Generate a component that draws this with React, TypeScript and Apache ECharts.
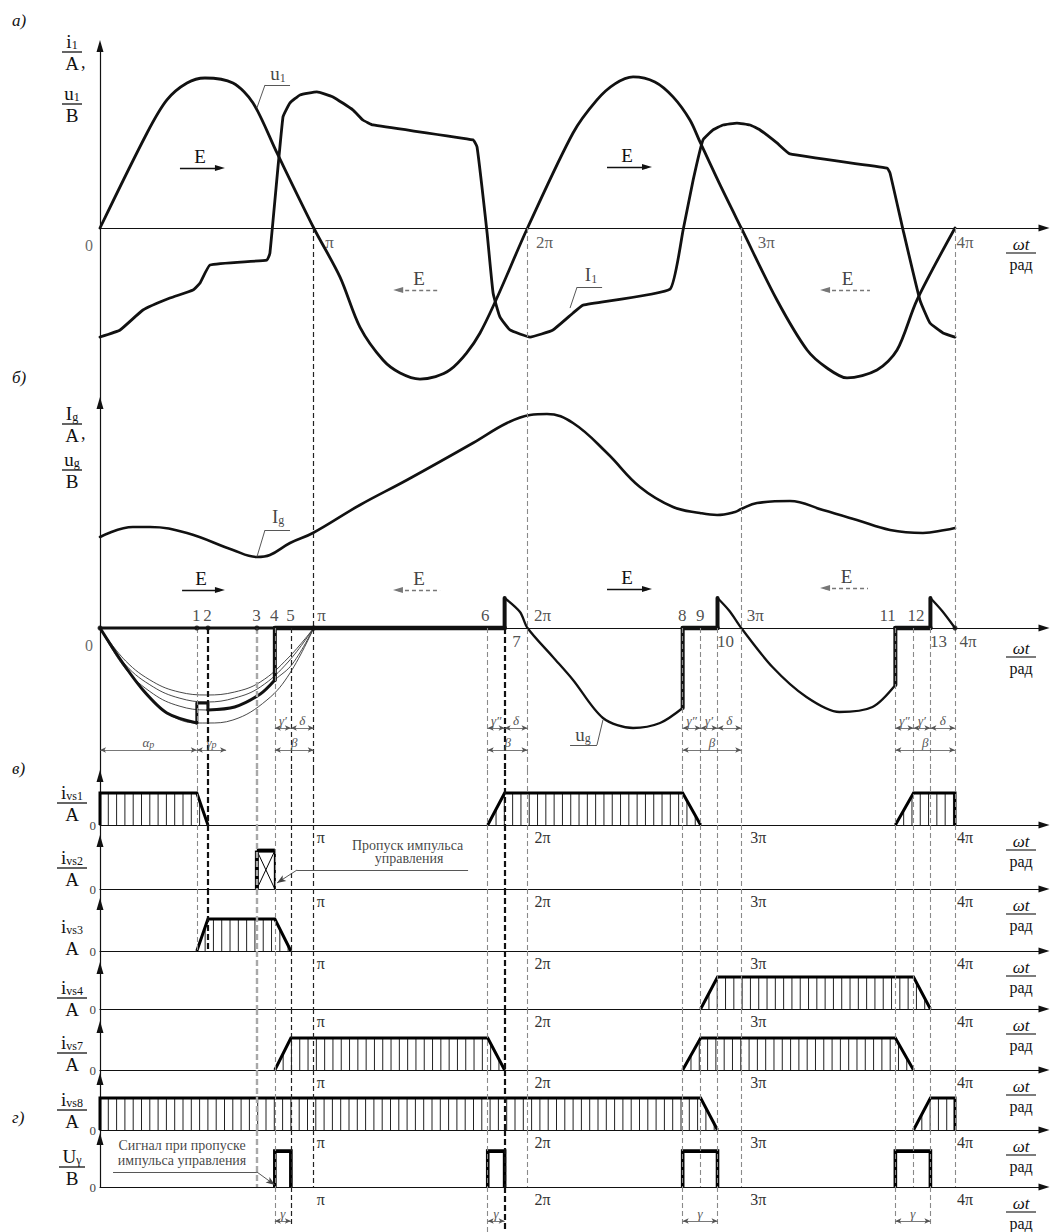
import { useEffect, useRef } from 'react';
import * as echarts from 'echarts';

type P = [number, number];

const SERIF = '"Liberation Serif", "DejaVu Serif", serif';
const INK = '#111';
const GREY = '#555';

/* ---------- ωt axis, values in units of π rad ---------- */
const xTickLabels = ['0', 'π', '2π', '3π', '4π'];
const X_MAX = 4.4164;

/* ---------- characteristic points on the u_g axis ---------- */
const pointNames = ['1', '2', '3', '4', '5', 'π', '6', '7', '2π', '8', '9', '10', '3π', '11', '12', '13', '4π'];
const pointX = [0.453, 0.505, 0.734, 0.818, 0.893, 1, 1.814, 1.893, 2, 2.726, 2.81, 2.889, 3, 3.721, 3.806, 3.885, 4];
const dotX = [0, 0.453, 0.505, 0.734, 1, 4];

/* ---------- panel а): u1 and I1 ---------- */
const u1: P[] = [
  [0, 0], [0.22, 0.629], [0.313, 0.848], [0.407, 0.96], [0.491, 0.993], [0.622, 0.96], [0.716, 0.828], [0.828, 0.497],
  [1, 0], [1.123, -0.325], [1.216, -0.656], [1.324, -0.874], [1.404, -0.96], [1.497, -1.0], [1.637, -0.94], [1.778, -0.695],
  [2, 0], [2.213, 0.629], [2.325, 0.848], [2.409, 0.954], [2.494, 1.0], [2.596, 0.967], [2.681, 0.868], [2.76, 0.715],
  [2.807, 0.57], [2.901, 0.285], [3, 0], [3.167, -0.477], [3.308, -0.808], [3.401, -0.927], [3.495, -0.993], [3.635, -0.94],
  [3.729, -0.808], [3.822, -0.477], [4, 0],
];
const i1: P[] = [
  [0, -0.722], [0.094, -0.675], [0.201, -0.543], [0.327, -0.464], [0.435, -0.411], [0.468, -0.364], [0.515, -0.245],
  [0.781, -0.212], [0.795, -0.166], [0.856, 0.735], [0.889, 0.828], [0.936, 0.881], [1.015, 0.901], [1.09, 0.868],
  [1.184, 0.781], [1.23, 0.715], [1.277, 0.682], [1.745, 0.583], [1.764, 0.536], [1.811, -0.033], [1.839, -0.43],
  [1.871, -0.589], [1.918, -0.675], [2.012, -0.722], [2.119, -0.675], [2.213, -0.563], [2.26, -0.51], [2.667, -0.404],
  [2.728, -0.013], [2.775, 0.318], [2.821, 0.583], [2.868, 0.649], [2.915, 0.682], [2.98, 0.695], [3.041, 0.682],
  [3.088, 0.649], [3.167, 0.563], [3.228, 0.49], [3.682, 0.397], [3.696, 0.364], [3.757, -0.013], [3.836, -0.477],
  [3.883, -0.629], [3.944, -0.695], [4, -0.722],
];
const eArrowsA = [
  { x1: 0.374, x2: 0.561, y: 0.397, dir: 1 },
  { x1: 1.395, x2: 1.591, y: -0.411, dir: -1 },
  { x1: 2.372, x2: 2.559, y: 0.404, dir: 1 },
  { x1: 3.392, x2: 3.602, y: -0.411, dir: -1 },
];
const leadersA: P[][] = [
  [[0.734, 0.795], [0.772, 0.947], [0.889, 0.947]],
  [[2.199, -0.53], [2.232, -0.391], [2.349, -0.391]],
];
const textsA = [
  { t: '0', x: -0.0515, y: -0.113 },
  { t: 'u{s|1}', x: 0.833, y: 1.02 },
  { t: 'I{s|1}', x: 2.297, y: -0.311 },
];
// horizontal offset of the а) tick labels (style only)
const tickDxA = [12, 9, 17, 2];

/* ---------- panel б): Ig and u_g ---------- */
const ig: P[] = [
  [0, 0.91], [0.154, 1.01], [0.234, 1.01], [0.407, 0.95], [0.622, 0.78], [0.734, 0.71], [0.795, 0.73], [0.889, 0.85],
  [0.996, 0.95], [1.216, 1.23], [1.436, 1.48], [1.745, 1.85], [1.904, 2.05], [2.012, 2.13], [2.091, 2.14], [2.213, 2.05],
  [2.372, 1.75], [2.526, 1.41], [2.681, 1.21], [2.807, 1.15], [2.887, 1.13], [2.971, 1.16], [3, 1.19], [3.074, 1.25],
  [3.228, 1.27], [3.382, 1.18], [3.541, 1.08], [3.696, 0.98], [3.85, 0.95], [3.953, 0.98], [4, 1.0],
];
const ugArc1: P[] = [[0, 0], [0.12, -0.33], [0.25, -0.54], [0.37, -0.64], [0.5, -0.67], [0.63, -0.64], [0.75, -0.54], [0.88, -0.3], [1, 0]];
const ugArc2: P[] = [[0, 0], [0.12, -0.37], [0.25, -0.59], [0.37, -0.7], [0.5, -0.74], [0.63, -0.7], [0.75, -0.59], [0.88, -0.34], [1, 0]];
const ugArc3: P[] = [[0, 0], [0.12, -0.41], [0.25, -0.66], [0.37, -0.78], [0.5, -0.82], [0.63, -0.79], [0.75, -0.66], [0.818, -0.52], [0.9, -0.36], [1, 0]];
const ugArc4: P[] = [[0, 0], [0.1, -0.33], [0.201, -0.62], [0.313, -0.85], [0.453, -0.95], [0.505, -0.95], [0.622, -0.92], [0.781, -0.72], [0.889, -0.45], [1, 0]];
const ugLegA: P[] = [[0, 0], [0.1, -0.33], [0.201, -0.62], [0.313, -0.85], [0.453, -0.95]];
const ugStep: P[] = [[0.453, -0.95], [0.453, -0.75], [0.505, -0.75], [0.505, -0.82]];
const ugLegB: P[] = [[0.505, -0.82], [0.63, -0.79], [0.75, -0.66], [0.818, -0.52]];
const ugLegC: P[] = [[1.893, 0.3], [1.965, 0.16], [2, 0], [2.119, -0.29], [2.213, -0.52], [2.353, -0.9], [2.494, -1.0], [2.62, -0.95], [2.726, -0.8]];
const ugLegD: P[] = [[2.889, 0.3], [2.945, 0.17], [3, 0], [3.146, -0.39], [3.305, -0.69], [3.459, -0.84], [3.614, -0.79], [3.721, -0.57]];
const ugLegE: P[] = [[3.885, 0.3], [3.94, 0.17], [4, 0]];
const ugJumps: P[][] = [
  [[0.818, -0.52], [0.818, 0]], [[1.893, 0], [1.893, 0.3]], [[2.726, -0.8], [2.726, 0]],
  [[2.889, 0], [2.889, 0.3]], [[3.721, -0.57], [3.721, 0]], [[3.885, 0], [3.885, 0.3]],
];
const ugConduction: P[][] = [
  [[0, 0], [0.818, 0]], [[0.818, 0], [1.893, 0]], [[2.726, 0], [2.889, 0]], [[3.721, 0], [3.885, 0]],
];
const ugConductionWidth = [3, 4.5, 4.5, 4.5];
const eArrowsB = [
  { x1: 0.384, x2: 0.561, y: 0.38, dir: 1 },
  { x1: 1.394, x2: 1.591, y: 0.38, dir: -1 },
  { x1: 2.372, x2: 2.559, y: 0.39, dir: 1 },
  { x1: 3.392, x2: 3.593, y: 0.4, dir: -1 },
];
const dimsB = [
  { x1: 0.818, x2: 0.893, y: -1.0, t: 'γ′' }, { x1: 0.893, x2: 1, y: -1.0, t: 'δ' },
  { x1: 1.814, x2: 1.893, y: -1.0, t: 'γ″' }, { x1: 1.893, x2: 2, y: -1.0, t: 'δ' },
  { x1: 2.726, x2: 2.81, y: -1.0, t: 'γ″' }, { x1: 2.81, x2: 2.889, y: -1.0, t: 'γ′' }, { x1: 2.889, x2: 3, y: -1.0, t: 'δ' },
  { x1: 3.721, x2: 3.806, y: -1.0, t: 'γ″' }, { x1: 3.806, x2: 3.885, y: -1.0, t: 'γ′' }, { x1: 3.885, x2: 4, y: -1.0, t: 'δ' },
  { x1: 0, x2: 0.453, y: -1.22, t: 'α{s|p}' }, { x1: 0.453, x2: 0.59, y: -1.22, t: 'γ{s|p}' },
  { x1: 0.818, x2: 1, y: -1.22, t: 'β' }, { x1: 1.814, x2: 2, y: -1.22, t: 'β' },
  { x1: 2.726, x2: 3, y: -1.22, t: 'β' }, { x1: 3.721, x2: 4, y: -1.22, t: 'β' },
];
const leadersB: P[][] = [
  [[0.734, 0.71], [0.772, 0.98], [0.889, 0.98]],
  [[2.353, -0.92], [2.325, -1.17], [2.199, -1.17]],
];
const textsB = [
  { t: '0', x: -0.0515, y: -0.17 },
  { t: 'I{s|g}', x: 0.833, y: 1.12 },
  { t: 'u{s|g}', x: 2.26, y: -1.06 },
];
// label placement of the point names (style only)
const pointLabelMode = ['t', 't', 't', 't', 't', 'tl', 't', 'bl', 'tl', 't', 't', 'bl', 'tl', 'tr', 't', 'bl', 'bl'];
const pointLabelDx = [0, 0, 0, 0, 0, 4, -2, 8, 7, 0, 0, 0, 6, 1, 3, 0, 5];

/* ---------- panel в): thyristor currents [rampStart, topStart, topEnd, rampEnd, level] ---------- */
const stripTitles = ['i{s|vs1}', 'i{s|vs2}', 'i{s|vs3}', 'i{s|vs4}', 'i{s|vs7}', 'i{s|vs8}', 'U{s|γ}'];
const stripUnits = ['A', 'A', 'A', 'A', 'A', 'A', 'B'];
const vs1 = [[0, 0, 0.453, 0.505, 1], [1.814, 1.893, 2.726, 2.81, 1], [3.721, 3.806, 4, 4, 1]];
const vs2Skip = [[0.734, 0.818, 1.2]];
const vs3 = [[0.453, 0.505, 0.818, 0.893, 1]];
const vs4 = [[2.81, 2.889, 3.806, 3.885, 1]];
const vs7 = [[0.818, 0.893, 1.814, 1.893, 1], [2.726, 2.81, 3.721, 3.806, 1]];
const vs8 = [[0, 0, 2.81, 2.889, 1], [3.806, 3.885, 4, 4, 1]];
/* ---------- panel г): control signal [start, end, level] ---------- */
const uGamma = [[0.818, 0.893, 1.12], [1.814, 1.893, 1.12], [2.726, 2.889, 1.12], [3.721, 3.885, 1.12]];
const dimsGamma = [
  { x1: 0.818, x2: 0.893, y: 0.244, t: 'γ' }, { x1: 1.814, x2: 1.893, y: 0.244, t: 'γ' },
  { x1: 2.726, x2: 2.889, y: 0.244, t: 'γ' }, { x1: 3.721, x2: 3.885, y: 0.244, t: 'γ' },
];
const leaderVs2: P[] = [[1.722, 0.594], [0.922, 0.594], [0.828, 0.188]];
const leaderU: P[] = [[0.061, 0.469], [0.734, 0.469], [0.818, 0.0625]];
const textsVs2 = [{ t: 'Пропуск импульса', x: 1.439, y: 1.375 }, { t: 'управления', x: 1.446, y: 0.94 }];
const textsU = [{ t: 'Сигнал при пропуске', x: 0.384, y: 1.31 }, { t: 'импульса управления', x: 0.384, y: 0.84 }];

/* dashed guide lines: [point name, last panel reached, tone] */
const periodGuides = [['π', 'u', 'dark'], ['2π', 'u', 'gray'], ['3π', 'u', 'gray'], ['4π', 'u', 'gray']];
const pointGuides = [
  ['1', 'vs3', 'gray'], ['2', 'vs3', 'heavy'], ['3', 'u', 'light'], ['4', 'ext', 'gray'], ['5', 'ext', 'dark'],
  ['6', 'ext0', 'gray'], ['7', 'ext0', 'heavy'], ['8', 'ext', 'gray'], ['9', 'u', 'gray'], ['10', 'ext', 'gray'],
  ['11', 'ext', 'gray'], ['12', 'u', 'gray'], ['13', 'ext', 'gray'],
];

/* ---------- layout (pixels) ---------- */
const LEFT = 100;
const RIGHT = 10;
const STRIPS = [
  { top: 770, axis: 825, tip: 770, bar: 803 },
  { top: 825, axis: 889, tip: 835, bar: 868 },
  { top: 889, axis: 951, tip: 898, bar: 0 },
  { top: 951, axis: 1009, tip: 962, bar: 998 },
  { top: 1009, axis: 1070, tip: 1021, bar: 1053 },
  { top: 1070, axis: 1130, tip: 1073, bar: 1110 },
  { top: 1130, axis: 1187, tip: 1133, bar: 1167 },
];
const STRIP_PX = 32;

const GUIDE: Record<string, any> = {
  dark: { type: [5, 3], color: '#222', width: 1.2 },
  gray: { type: [5, 3], color: '#8a8a8a', width: 1.1 },
  light: { type: [6, 3], color: '#a8a8a8', width: 2.4 },
  heavy: { type: [6, 3], color: '#111', width: 2.2 },
};

const subRichLabel = {
  s: { fontSize: 12, fontFamily: SERIF, color: INK, verticalAlign: 'bottom', lineHeight: 12 },
};
const dimRich = {
  s: { fontSize: 10, fontFamily: SERIF, fontStyle: 'italic', color: GREY, verticalAlign: 'bottom', lineHeight: 10 },
};

function T(x: number, y: number, text: string, o: any = {}) {
  const align = o.align ?? 'center';
  const va = o.va ?? 'middle';
  return {
    type: 'text', x, y, silent: true,
    style: {
      text, fill: o.color ?? INK, fontFamily: SERIF, fontSize: o.size ?? 19,
      fontStyle: o.italic ? 'italic' : 'normal',
      align, textAlign: align, verticalAlign: va, textVerticalAlign: va,
      lineHeight: o.lh,
      rich: o.rich,
    },
  };
}

const subRichG = {
  s: { fontSize: 12, fontFamily: SERIF, fill: INK, verticalAlign: 'bottom', lineHeight: 12 },
};

function fracG(cx: number, bar: number, top: string, bottom: string, w: number, drawBar = true) {
  const els: any[] = [T(cx, bar - 1, top, { va: 'bottom', rich: subRichG, lh: 20 })];
  if (drawBar) {
    els.push({ type: 'line', silent: true, shape: { x1: cx - w / 2, y1: bar, x2: cx + w / 2, y2: bar }, style: { stroke: INK, lineWidth: 1.3 } });
  }
  els.push(T(cx, bar + 2, bottom, { va: 'top', lh: 18 }));
  return els;
}

function omegaG(axisY: number) {
  return [
    T(1021, axisY + 16, 'ωt', { size: 17, italic: true }),
    { type: 'line', silent: true, shape: { x1: 1006, y1: axisY + 25, x2: 1036, y2: axisY + 25 }, style: { stroke: INK, lineWidth: 1.1 } },
    T(1021, axisY + 36, 'рад', { size: 16 }),
  ];
}

function buildOption() {
  const P: Record<string, number> = {};
  pointNames.forEach((n, i) => { P[n] = pointX[i]; });

  const gridBoxes = [
    { top: 46, height: 351 },
    { top: 397, height: 373 },
    ...STRIPS.map((s) => ({ top: s.top, height: s.axis - s.top })),
    { top: 1187, height: 45 },
  ];
  const yRanges: [number, number][] = [
    [-1.119, 1.205],
    [-1.42, 2.31],
    ...STRIPS.map((s) => [0, (s.axis - s.top) / STRIP_PX] as [number, number]),
    [0, 1],
  ];
  const arrowOffsets = [0, -6, ...STRIPS.map((s) => -(s.tip + 6 - s.top)), 0];
  const nG = gridBoxes.length;
  const EXT = nG - 1;

  const grid = gridBoxes.map((b) => ({ left: LEFT, right: RIGHT, top: b.top, height: b.height, containLabel: false }));

  const tickFmt = (v: number) => {
    const i = Math.round(v);
    if (Math.abs(v - i) > 1e-6 || i < 1 || i > 4) return '';
    return `{p${i}|${xTickLabels[i]}}`;
  };
  const tickRich = (offs: number[], size: number) => {
    const r: any = {};
    offs.forEach((o, k) => {
      r['p' + (k + 1)] = { padding: [0, 0, 0, o], fontFamily: SERIF, fontSize: size, color: '#333' };
    });
    return r;
  };

  const xAxis = gridBoxes.map((_, g) => {
    const base: any = {
      gridIndex: g, type: 'value', min: 0, max: X_MAX, interval: 1,
      show: g !== EXT,
      axisLine: { show: true, onZero: true, symbol: ['none', 'triangle'], symbolSize: [7, 11], lineStyle: { color: INK, width: 1.2 } },
      axisTick: { show: false }, splitLine: { show: false },
      axisLabel: { show: false },
    };
    if (g >= 2 && g < EXT) {
      base.axisLabel = { show: true, margin: 4, align: 'left', formatter: tickFmt, rich: tickRich([3, 7, 9, 2], 16), fontFamily: SERIF, fontSize: 16, color: '#333' };
    }
    return base;
  });

  const yAxis = gridBoxes.map((_, g) => {
    const isStrip = g >= 2 && g < EXT;
    return {
      gridIndex: g, type: 'value', min: yRanges[g][0], max: yRanges[g][1],
      show: g !== EXT,
      axisLine: {
        show: true, onZero: true, symbol: ['none', 'triangle'], symbolSize: [7, 12],
        symbolOffset: [0, arrowOffsets[g]], lineStyle: { color: INK, width: 1.2 },
      },
      axisTick: { show: false }, splitLine: { show: false },
      axisLabel: isStrip
        ? { show: true, margin: 4, formatter: (v: number) => (v === 0 ? '0' : ''), fontFamily: SERIF, fontSize: 13, color: '#444' }
        : { show: false },
    };
  });

  const series: any[] = [];
  const lineS = (g: number, data: P[], width: number, o: any = {}) => ({
    type: 'line', xAxisIndex: g, yAxisIndex: g, data, symbol: 'none', showSymbol: false, silent: true,
    animation: false, clip: false, smooth: o.smooth ?? false, z: o.z ?? 3,
    lineStyle: { color: o.color ?? INK, width, cap: 'round', join: 'round' },
    emphasis: { disabled: true },
  });

  /* markLine containers per grid */
  const marks: any[][] = gridBoxes.map(() => []);

  const addGuide = (x: number, start: string, end: string, tone: string) => {
    const endGrid = end === 'vs3' ? 4 : end === 'u' ? 8 : EXT;
    for (let g = start === 'a' ? 0 : 1; g <= endGrid; g++) {
      const [mn, mx] = yRanges[g];
      let y1: number; let y2: number;
      if (g === 0) { y1 = 0; y2 = mn; }
      else if (g === 1) { y1 = start === 'a' ? mx : 0; y2 = mn; }
      else if (g === EXT) { y1 = 1; y2 = end === 'ext0' ? 0 : 0.12; }
      else { y1 = mx; y2 = 0; }
      marks[g].push([{ coord: [x, y1], lineStyle: GUIDE[tone] }, { coord: [x, y2] }]);
    }
  };
  periodGuides.forEach(([n, e, t]) => addGuide(P[n], 'a', e, t));
  pointGuides.forEach(([n, e, t]) => addGuide(P[n], 'b', e, t));

  const eItem = (e: any) => {
    const dashed = e.dir < 0;
    const ls = dashed ? { type: [4, 3], color: '#777', width: 1.4 } : { type: 'solid', color: INK, width: 1.4 };
    return [
      {
        coord: [e.x1, e.y], symbol: dashed ? 'triangle' : 'none', symbolSize: [6, 10], lineStyle: ls,
        label: { show: true, formatter: 'E', position: 'insideMiddleTop', distance: 2, fontFamily: SERIF, fontSize: 19, color: dashed ? '#444' : INK },
      },
      { coord: [e.x2, e.y], symbol: dashed ? 'none' : 'triangle', symbolSize: [6, 10] },
    ];
  };
  const dimItem = (d: any) => [
    {
      coord: [d.x1, d.y], symbol: 'arrow', symbolSize: [4, 6], lineStyle: { type: 'solid', color: GREY, width: 0.8 },
      label: { show: true, formatter: d.t, position: 'insideMiddleTop', distance: 1, fontFamily: SERIF, fontStyle: 'italic', fontSize: 13, color: GREY, rich: dimRich },
    },
    { coord: [d.x2, d.y], symbol: 'arrow', symbolSize: [4, 6] },
  ];
  const leaderItems = (pts: P[], arrowEnd = false) =>
    pts.slice(1).map((p, i) => [
      { coord: pts[i], symbol: 'none', lineStyle: { type: 'solid', color: '#444', width: 0.9 } },
      { coord: p, symbol: arrowEnd && i === pts.length - 2 ? 'arrow' : 'none', symbolSize: [5, 9] },
    ]);

  eArrowsA.forEach((e) => marks[0].push(eItem(e)));
  leadersA.forEach((l) => marks[0].push(...leaderItems(l)));
  eArrowsB.forEach((e) => marks[1].push(eItem(e)));
  dimsB.forEach((d) => marks[1].push(dimItem(d)));
  leadersB.forEach((l) => marks[1].push(...leaderItems(l)));
  marks[3].push(...leaderItems(leaderVs2, true));
  marks[8].push(...leaderItems(leaderU, true));
  dimsGamma.forEach((d) => marks[EXT].push(dimItem(d)));

  marks.forEach((data, g) => {
    series.push({
      type: 'line', xAxisIndex: g, yAxisIndex: g, data: [], silent: true, animation: false, z: 1,
      markLine: {
        silent: true, animation: false, symbol: ['none', 'none'], precision: 4,
        label: { show: false }, lineStyle: { type: 'solid', color: INK, width: 1 },
        emphasis: { disabled: true }, data,
      },
    });
  });

  const textSeries = (g: number, items: any[], size: number) => ({
    type: 'scatter', xAxisIndex: g, yAxisIndex: g, symbolSize: 1, itemStyle: { color: 'rgba(0,0,0,0)' },
    silent: true, clip: false, z: 6, animation: false,
    label: { show: true, position: 'inside', formatter: '{b}', fontFamily: SERIF, fontSize: size, color: INK, lineHeight: 20, rich: subRichLabel },
    data: items.map((t) => ({
      name: t.t, value: [t.x, t.y],
      label: t.t === '0' ? { fontSize: 16, color: '#444' } : undefined,
    })),
  });

  /* а) */
  series.push(lineS(0, u1, 2.8, { smooth: 0.3 }));
  series.push(lineS(0, i1, 2.8, { smooth: 0.12 }));
  series.push(textSeries(0, textsA, 19));
  series.push({
    type: 'scatter', xAxisIndex: 0, yAxisIndex: 0, symbolSize: 1, itemStyle: { color: 'rgba(0,0,0,0)' }, silent: true, clip: false, z: 6,
    label: { show: true, formatter: '{b}', fontFamily: SERIF, fontSize: 17, color: '#333' },
    data: [1, 2, 3, 4].map((i) => ({
      name: xTickLabels[i], value: [i, 0],
      label: { position: [tickDxA[i - 1], 7], align: 'left', verticalAlign: 'top' },
    })),
  });

  /* б) */
  series.push(lineS(1, ig, 2.6, { smooth: 0.4 }));
  [ugArc1, ugArc2, ugArc3, ugArc4].forEach((a) => series.push(lineS(1, a, 0.9, { smooth: 0.4, color: '#333', z: 2 })));
  series.push(lineS(1, ugLegA, 3, { smooth: 0.3 }));
  series.push(lineS(1, ugStep, 3));
  series.push(lineS(1, ugLegB, 3, { smooth: 0.3 }));
  [ugLegC, ugLegD, ugLegE].forEach((l) => series.push(lineS(1, l, 2.3, { smooth: 0.3 })));
  ugJumps.forEach((j) => series.push(lineS(1, j, 4)));
  ugConduction.forEach((c, k) => series.push(lineS(1, c, ugConductionWidth[k])));
  series.push({
    type: 'scatter', xAxisIndex: 1, yAxisIndex: 1, symbolSize: 5, itemStyle: { color: INK }, silent: true, z: 5,
    data: dotX.map((x) => [x, 0]),
  });
  series.push({
    type: 'scatter', xAxisIndex: 1, yAxisIndex: 1, symbolSize: 1, itemStyle: { color: 'rgba(0,0,0,0)' }, silent: true, clip: false, z: 6,
    label: { show: true, formatter: '{b}', fontFamily: SERIF, fontSize: 17, color: '#222' },
    data: pointNames.map((n, i) => {
      const m = pointLabelMode[i];
      const above = m[0] === 't';
      const align = m === 'tl' || m === 'bl' ? 'left' : m === 'tr' ? 'right' : 'center';
      return {
        name: n, value: [pointX[i], 0],
        label: { position: [pointLabelDx[i], above ? -4 : 5], align, verticalAlign: above ? 'bottom' : 'top' },
      };
    }),
  });
  series.push(textSeries(1, textsB, 19));

  /* в) hatched pulses */
  const pulseSeries = (g: number, data: number[][]) => ({
    type: 'custom', xAxisIndex: g, yAxisIndex: g, data, silent: true, clip: false, z: 4, animation: false,
    encode: { x: [0, 1, 2, 3], y: 4 },
    renderItem: (_p: any, api: any) => {
      const x0 = api.value(0); const x1 = api.value(1); const x2 = api.value(2); const x3 = api.value(3); const h = api.value(4);
      const p0 = api.coord([x0, 0]); const p1 = api.coord([x1, h]); const p2 = api.coord([x2, h]); const p3 = api.coord([x3, 0]);
      const children: any[] = [];
      const step = 8.3;
      for (let px = p0[0] + step; px < p3[0] - 1; px += step) {
        let top: number;
        if (px < p1[0]) top = p0[1] + ((p1[1] - p0[1]) * (px - p0[0])) / (p1[0] - p0[0]);
        else if (px <= p2[0]) top = p1[1];
        else top = p2[1] + ((p3[1] - p2[1]) * (px - p2[0])) / (p3[0] - p2[0]);
        children.push({ type: 'line', shape: { x1: px, y1: p0[1], x2: px, y2: top }, style: { stroke: '#222', lineWidth: 1 } });
      }
      children.push({
        type: 'polyline', shape: { points: [p0, p1, p2, p3] },
        style: { stroke: '#000', lineWidth: 3, fill: null, lineJoin: 'miter' },
      });
      return { type: 'group', children };
    },
  });
  series.push(pulseSeries(2, vs1));
  series.push(pulseSeries(4, vs3));
  series.push(pulseSeries(5, vs4));
  series.push(pulseSeries(6, vs7));
  series.push(pulseSeries(7, vs8));

  series.push({
    type: 'custom', xAxisIndex: 3, yAxisIndex: 3, data: vs2Skip, silent: true, clip: false, z: 4, animation: false,
    encode: { x: [0, 1], y: 2 },
    renderItem: (_p: any, api: any) => {
      const x0 = api.value(0); const x1 = api.value(1); const h = api.value(2);
      const a = api.coord([x0, 0]); const b = api.coord([x0, h]); const c = api.coord([x1, h]); const d = api.coord([x1, 0]);
      const L = (p: number[], q: number[], w: number) => ({ type: 'line', shape: { x1: p[0], y1: p[1], x2: q[0], y2: q[1] }, style: { stroke: '#000', lineWidth: w } });
      return { type: 'group', children: [L(a, c, 1), L(b, d, 1), L(a, b, 4), L(b, c, 4), L(c, d, 2)] };
    },
  });
  series.push(textSeries(3, textsVs2, 14));

  /* г) control signal */
  series.push({
    type: 'custom', xAxisIndex: 8, yAxisIndex: 8, data: uGamma, silent: true, clip: false, z: 4, animation: false,
    encode: { x: [0, 1], y: 2 },
    renderItem: (_p: any, api: any) => {
      const x0 = api.value(0); const x1 = api.value(1); const h = api.value(2);
      const pts = [api.coord([x0, 0]), api.coord([x0, h]), api.coord([x1, h]), api.coord([x1, 0])];
      return { type: 'polyline', shape: { points: pts }, style: { stroke: '#000', lineWidth: 3.6, fill: null, lineJoin: 'miter' } };
    },
  });
  series.push(textSeries(8, textsU, 14));

  /* graphic texts: panel letters, axis titles, ωt/рад */
  const elements: any[] = [];
  elements.push(T(12, 20, 'а)', { size: 17, italic: true, align: 'left' }));
  elements.push(T(12, 377, 'б)', { size: 17, italic: true, align: 'left' }));
  elements.push(T(12, 768, 'в)', { size: 17, italic: true, align: 'left' }));
  elements.push(T(12, 1117, 'г)', { size: 17, italic: true, align: 'left' }));
  elements.push(...fracG(72, 52, 'i{s|1}', 'A', 20), T(81, 62, ',', { size: 18, align: 'left' }));
  elements.push(...fracG(72, 104, 'u{s|1}', 'B', 20));
  elements.push(...fracG(72, 424, 'I{s|g}', 'A', 20), T(81, 433, ',', { size: 18, align: 'left' }));
  elements.push(...fracG(72, 470, 'u{s|g}', 'B', 20));
  STRIPS.forEach((s, k) => {
    const bar = s.bar || 937;
    elements.push(...fracG(72, bar, stripTitles[k], stripUnits[k], k === 6 ? 26 : 30, s.bar !== 0));
  });
  [228, 632, ...STRIPS.map((s) => s.axis)].forEach((y) => elements.push(...omegaG(y)));

  return {
    animation: false,
    backgroundColor: '#fff',
    grid, xAxis, yAxis, series,
    graphic: { elements },
  };
}

export default function App() {
  const ref = useRef<HTMLDivElement>(null);
  useEffect(() => {
    if (!ref.current) return;
    const chart = echarts.init(ref.current, null, { renderer: 'svg' });
    chart.setOption(buildOption() as any);
    return () => chart.dispose();
  }, []);
  return (
    <div
      ref={ref}
      style={{ position: 'absolute', left: 0, top: 0, width: 1054, height: 1232, background: '#fff' }}
    />
  );
}
